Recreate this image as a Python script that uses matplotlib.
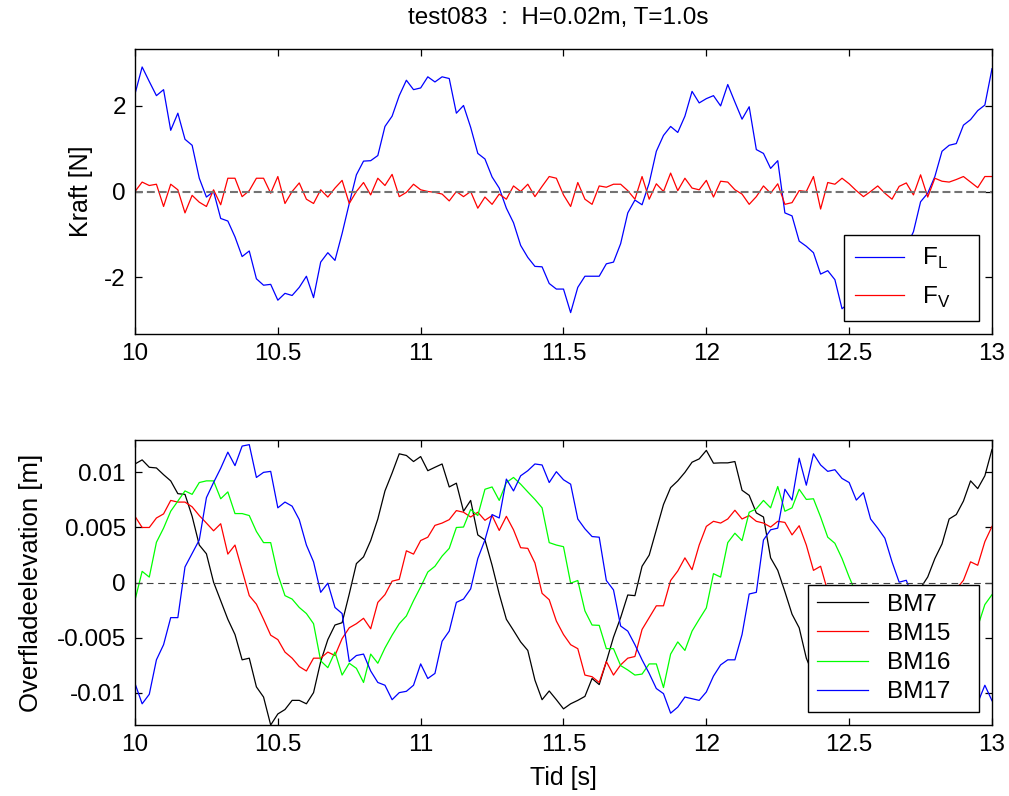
import matplotlib
matplotlib.use("Agg")
import matplotlib.pyplot as plt
import numpy as np

plt.rcParams["font.family"] = "Liberation Sans"
plt.rcParams["mathtext.fontset"] = "custom"
plt.rcParams["mathtext.rm"] = "Liberation Sans"
plt.rcParams["axes.unicode_minus"] = False

# tid, 40 Hz fra 10 s til 13 s
t = np.linspace(10, 13, 121)

# kraefter [N]
F_L = [2.28, 2.91, 2.57, 2.24, 2.38, 1.43, 1.83, 1.22, 1.08, 0.31, -0.13, 0.0, -0.63, -0.69, -1.06,
       -1.52, -1.39, -2.04, -2.19, -2.17, -2.54, -2.38, -2.43, -2.24, -1.98, -2.48, -1.65, -1.43, -1.61,
       -0.98, -0.28, 0.39, 0.71, 0.72, 0.84, 1.52, 1.76, 2.24, 2.6, 2.38, 2.42,
       2.68, 2.56, 2.68, 2.64, 1.83, 2.01, 1.5, 0.89, 0.76, 0.34, 0.08, -0.39, -0.73, -1.26, -1.54,
       -1.75, -1.76, -2.15, -2.28, -2.28, -2.83, -2.24, -1.98, -1.98, -1.98, -1.69, -1.65, -1.22, -0.5,
       -0.2, -0.31, 0.2, 0.94, 1.31, 1.52, 1.38, 1.76, 2.34, 2.07, 2.17, 2.24, 2.0,
       2.5, 2.09, 1.69, 1.98, 0.98, 0.89, 0.54, 0.72, -0.5, -0.57, -1.16, -1.28, -1.43, -1.93, -1.85,
       -2.06, -2.74, -2.6, -2.5, -2.65, -2.4, -2.2, -2.1, -1.8, -1.6, -1.3,
       -0.94, -0.24, -0.04, 0.35, 0.94, 1.08, 1.12, 1.55, 1.68, 1.89, 2.02, 2.87]
F_V = [0, 0.22, 0.14, 0.17, -0.35, 0.17, 0.04, -0.5, -0.09, -0.25, -0.35, 0.04, -0.31, 0.31, 0.31,
       -0.12, 0.02, 0.31, 0.31, -0.04, 0.35, -0.28, 0.0, 0.2, -0.18, -0.28, 0.04, -0.13, 0.08, 0.26,
       -0.28, 0.0, 0.21, -0.08, 0.31, 0.14, 0.4, -0.12, -0.02, 0.17, 0.04,
       0, -0.02, -0.06, -0.22, 0, -0.12, 0, -0.39, -0.13, -0.3, -0.06, -0.18, 0.13, 0, 0.17, -0.12,
       0.12, 0.35, 0.31, -0.08, -0.35, 0.21, -0.18, -0.3, 0.13, 0.1, 0.17, 0.17, 0.02, -0.18, 0.35,
       -0.18, 0.18, 0, 0.43, 0.02, 0.31, 0.08, 0.04, 0.26, -0.13, 0.24,
       0.22, 0.04, -0.06, -0.3, -0.12, 0.13, -0.04, 0.18, -0.3, -0.26, 0.02, 0, 0.35, -0.41, 0.21,
       0.17, 0.31, 0.18, 0.02, -0.12, 0, 0.13, -0.04, -0.18, 0.12, 0.2, -0.08, 0.39, -0.13, 0.31,
       0.24, 0.22, 0.28, 0.35, 0.22, 0.09, 0.35, 0.35]

# overfladeelevation [mm]
BM7 = [10.73, 11.1, 10.43, 10.37, 9.76, 9.2, 8.04, 7.98, 5.99, 3.39, 2.6, 0.03, -1.65, -3.33, -4.71,
       -7.0, -6.85, -9.45, -10.37, -12.9, -11.9, -11.5, -10.67, -10.67, -10.98, -9.97, -7.16, -5.17,
       -3.85, -3.64, -1.04, 1.71, 2.32, 3.79, 5.75, 8.29, 9.91, 11.65, 11.5, 10.95, 11.4,
       10.12, 10.43, 10.73, 8.65, 8.99, 6.45, 7.43, 4.31, 3.85, 1.56, -1.04, -3.33, -4.34, -5.38,
       -6.15, -8.84, -10.61, -9.82, -10.61, -11.44, -10.98, -10.67, -10.31, -8.69, -9.24, -7.16,
       -4.95, -3.18, -1.13, -1.19, 1.47, 2.48, 4.77, 7.06, 8.59, 9.2, 9.97, 10.89, 11.19, 11.96,
       10.8, 10.83,
       10.83, 10.95, 8.35, 7.89, 6.3, 5.93, 2.23, 1.1, -0.83, -2.87, -4.1, -6.85,
       -8.4, -9.5, -10.2, -10.8, -11.6, -11.2, -10.9, -10.6, -10.4, -9.4, -9.0, -7.2, -5.0, -3.3,
       -1.4, -0.5, 0.5, 2.17, 3.49, 5.75, 6.15, 7.37, 9.2, 8.5, 9.66, 12.05]
BM15 = [5.99, 4.98, 4.98, 5.84, 6.21, 7.43, 7.28, 7.28, 6.85, 6.06, 5.38, 4.68, 5.32, 2.57, 3.39,
        1.1, -1.19, -1.96, -3.33, -4.77, -5.17, -6.3, -6.85, -7.61, -8.01, -6.85, -6.85, -6.3,
        -6.61, -5.08, -4.1, -3.73, -3.24, -4.19, -1.8, -1.1, 0.12, 0.28, 2.87, 2.57, 3.8,
        4.1, 5.17, 5.38, 5.69, 6.51, 6.36, 5.93, 6.36, 5.63, 6.06, 4.71, 5.99, 4.77, 3.15, 3.09,
        1.77, -0.98, -1.56, -3.49, -4.71, -5.63, -5.99, -8.38, -8.53, -9.05, -7.16, -8.38, -7.46,
        -6.85, -6.7, -4.25, -3.18, -2.11, -2.11, 0.18, 1.04, 2.23, 1.16, 3.39, 5.08, 5.54, 5.38,
        5.75, 6.54, 5.75, 6.06, 5.54, 5.38, 5.02, 5.54, 5.44, 4.31, 5.14, 3.39, 1.1, 1.47,
        -0.8, -2.5, -3.8, -5.0, -6.0, -7.2, -7.8, -8.4, -8.2, -7.6, -7.9, -6.8, -6.3, -5.2, -4.0,
        -3.5, -2.3, -1.6, -0.6, 0.2, 1.87, 1.56, 3.7, 5.08]
BM16 = [-1.59, 1.01, 0.49, 3.64, 4.92, 6.45, 7.37, 8.29, 7.98, 9.05, 9.2, 9.2, 7.58, 8.2, 6.24,
        6.24, 6.06, 4.62, 3.61, 3.61, 0.73, -1.19, -1.5, -2.26, -2.81, -3.73, -7.09, -7.71, -6.3,
        -8.38, -7.31, -7.77, -9.05, -6.48, -7.31, -5.93, -4.77, -3.73, -3.03, -1.65, -0.4,
        0.95, 1.47, 2.39, 3.09, 4.98, 5.02, 6.61, 6.06, 8.44, 8.65, 7.43, 9.05, 9.51, 8.9, 8.2,
        7.52, 6.76, 3.61, 3.39, 3.24, -0.06, 0.18, -2.57, -3.85, -3.88, -5.99, -5.99, -7.52, -7.92,
        -8.38, -8.29, -7.37, -7.37, -9.51, -6.48, -5.38, -6.15, -4.4, -3.33, -2.3, 0.8, 0.49,
        3.61, 4.46, 3.79, 6.36, 6.67, 7.43, 6.76, 8.69, 6.45, 6.76, 8.44, 7.52, 7.58, 5.93, 4.1,
        3.55, 2.17, 0.49, -1.0, -2.3, -3.2, -4.0, -5.0, -5.8, -6.6, -7.4, -7.8, -8.2, -8.0, -8.6,
        -7.8, -7.2, -6.6, -5.8, -4.9, -4.0, -2.0, -1.1]
BM17 = [-9.14, -10.98, -10.12, -7.0, -5.63, -3.18, -3.18, 1.41, 2.63, 3.85, 7.68, 9.05, 10.34,
        11.8, 10.58, 12.35, 12.48, 9.51, 9.97, 10.06, 6.76, 7.28, 6.91, 5.69, 3.39, 1.87, -0.89,
        -0.06, -2.26, -2.81, -7.16, -6.61, -6.48, -8.01, -9.05, -9.3, -10.61, -9.97, -9.85, -9.3, -7.37,
        -8.69, -8.23, -5.32, -4.4, -1.8, -1.5, -0.58, 2.17, 3.85, 6.15, 5.84, 9.36, 8.29, 9.66,
        10.12, 10.73, 10.64, 9.05, 10.03, 9.3, 8.9, 5.75, 4.86, 4.16, 4.1, 0.18, -0.67, -3.94,
        -4.4, -5.63, -7.0, -8.23, -9.6, -10.06, -11.83, -11.28, -10.37, -10.52, -10.67, -9.91,
        -8.47, -7.46,
        -7.0, -7.0, -4.71, -1.04, -0.89, 3.85, 4.77, 4.92, 8.44, 7.46, 11.25, 8.81, 11.65, 10.64,
        10.06, 10.21, 9.42, 9.05, 7.46, 8.13, 5.75, 4.92, 4.01, 1.87, 0.03, 0.2,
        -1.5, -3.0, -4.5, -6.0, -7.0, -8.2, -9.2, -10.0, -10.5, -10.9, -9.3, -10.7]

xticks = [10, 10.5, 11, 11.5, 12, 12.5, 13]
xticklabels = ["10", "10.5", "11", "11.5", "12", "12.5", "13"]
fs = 17.5

fig = plt.figure(figsize=(10.09, 7.96), dpi=100)
W, H = 1009, 796
ax1 = fig.add_axes([135 / W, 1 - 334 / H, 857 / W, 285 / H])
ax2 = fig.add_axes([135 / W, 1 - 725 / H, 857 / W, 285 / H])

# oeverste: kraefter
ax1.plot(t, F_L, color=(0, 0, 1), lw=0.9, label=r"F$_\mathrm{L}$")
ax1.plot(t, F_V, color=(1, 0, 0), lw=0.9, label=r"F$_\mathrm{V}$")
ax1.axhline(0, color="0.45", lw=1.5, dashes=(3.8, 1.9))
ax1.set_ylim(-3.33, 3.33)
ax1.set_yticks([-2, 0, 2])
ax1.set_yticklabels(["-2", "0", "2"])
ax1.set_ylabel("Kraft [N]", fontsize=18, labelpad=8)

# nederste: overfladeelevation
m = np.array
ax2.plot(t, m(BM7) / 1000, color="k", lw=0.9, label="BM7")
ax2.plot(t, m(BM15) / 1000, color=(1, 0, 0), lw=0.9, label="BM15")
ax2.plot(t, m(BM16) / 1000, color=(0, 1, 0), lw=0.9, label="BM16")
ax2.plot(t, m(BM17) / 1000, color=(0, 0, 1), lw=0.9, label="BM17")
ax2.axhline(0, color="0.25", lw=0.8, dashes=(6, 4.2))
ax2.set_ylim(-0.0129, 0.0129)
ax2.set_yticks([-0.01, -0.005, 0, 0.005, 0.01])
ax2.set_yticklabels(["-0.01", "-0.005", "0", "0.005", "0.01"])
ax2.set_ylabel("Overfladeelevation [m]", fontsize=18.5, labelpad=10)
ax2.set_xlabel("Tid [s]", fontsize=18, labelpad=7)

for ax in (ax1, ax2):
    ax.set_xlim(10, 13)
    ax.set_xticks(xticks)
    ax.set_xticklabels(xticklabels)
    ax.tick_params(direction="in", top=True, right=True, length=5, width=0.9,
                   labelsize=fs, pad=6.5)
    for s in ax.spines.values():
        s.set_linewidth(1.0)

leg1 = ax1.legend(loc="lower left", bbox_to_anchor=(0.8273, 0.0456, 0.1575, 0.5), mode="expand",
                  borderaxespad=0, fancybox=False, edgecolor="k", framealpha=1, fontsize=fs,
                  handlelength=2.0, handletextpad=0.75, borderpad=0.45, labelspacing=0.55)
leg2 = ax2.legend(loc="lower left", bbox_to_anchor=(0.7853, 0.0456, 0.1995, 0.5), mode="expand",
                  borderaxespad=0, fancybox=False, edgecolor="k", framealpha=1, fontsize=fs,
                  handlelength=2.1, handletextpad=0.8, borderpad=0.35, labelspacing=0.3)
for leg in (leg1, leg2):
    leg.get_frame().set_linewidth(1.0)

fig.text(558 / W, 1 - 18 / H, "test083  :  H=0.02m, T=1.0s", ha="center", va="center",
         fontsize=17.5)

fig.savefig("out.png", dpi=100)
